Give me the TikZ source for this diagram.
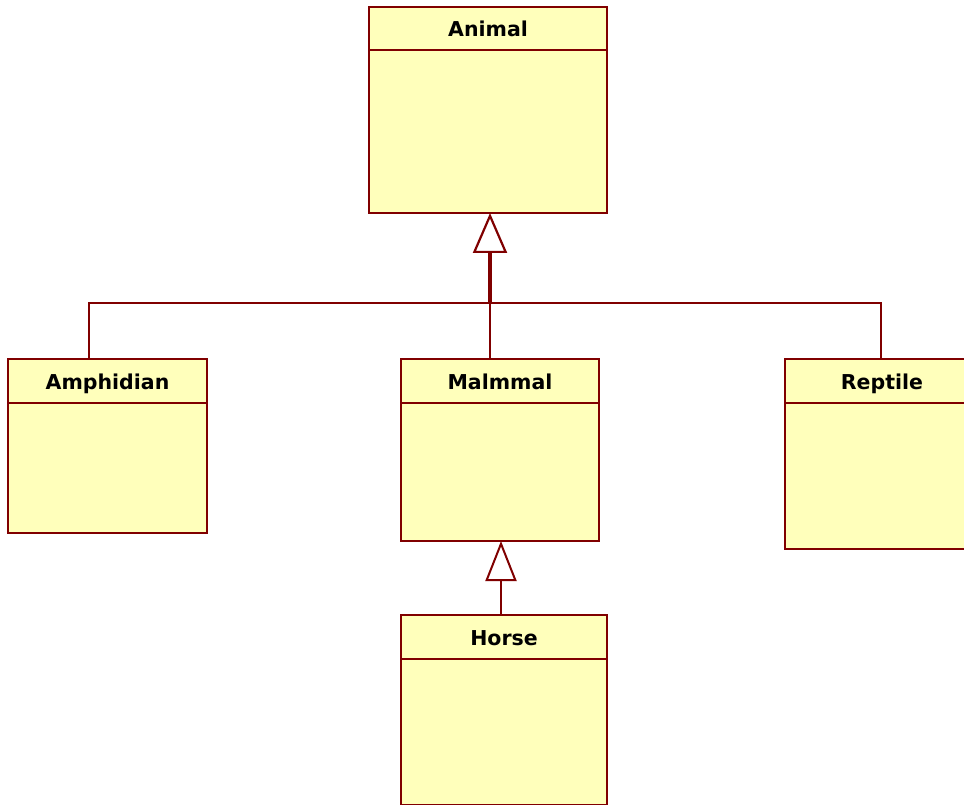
\documentclass[tikz,border=0pt]{standalone}
\usepackage{fontspec}
\setmainfont{DejaVu Sans}
\usetikzlibrary{arrows.meta}
\definecolor{umlline}{RGB}{128,0,0}
\definecolor{umlfill}{RGB}{255,255,187}
\tikzset{
  classbox/.style={draw=umlline, fill=umlfill, line width=2pt, rectangle,
    inner sep=0pt, outer sep=0pt},
  classtitle/.style={anchor=base, inner sep=0pt, font=\fontsize{20.5}{22}\selectfont\bfseries},
  divider/.style={draw=umlline, line width=2pt},
  assoc/.style={draw=umlline, line width=2pt},
  inherit/.style={draw=umlline, line width=2pt},
}
\begin{document}
\begin{tikzpicture}[x=1pt, y=-1pt]
  \useasboundingbox (0,0) rectangle (964,805);
  \clip (0,0) rectangle (964,805);

  % class boxes
  \node[classbox, minimum width=238pt, minimum height=206pt] (animal) at (488,110) {};
  \node[classbox, minimum width=199pt, minimum height=174pt] (amph) at (107.5,446) {};
  \node[classbox, minimum width=198pt, minimum height=182pt] (mammal) at (500,450) {};
  \node[classbox, minimum width=194pt, minimum height=190pt] (reptile) at (882,454) {};
  \node[classbox, minimum width=206pt, minimum height=190pt] (horse) at (504,710) {};

  % compartment dividers
  \foreach \b in {animal, amph, mammal, reptile, horse}
    \draw[divider] ([yshift=-43.5pt]\b.north west) -- ([yshift=-43.5pt]\b.north east);

  % class names (on a common baseline below each box top)
  \node[classtitle] (animalT) at ([yshift=-30pt]animal.north) {Animal};
  \node[classtitle] (amphT) at ([yshift=-30pt]amph.north) {Amphidian};
  \node[classtitle] (mammalT) at ([yshift=-30pt]mammal.north) {Malmmal};
  \node[classtitle] (reptileT) at ([yshift=-30pt]reptile.north) {Reptile};
  \node[classtitle] (horseT) at ([yshift=-30pt]horse.north) {Horse};

  % generalisation tree towards Animal
  \coordinate (bus) at (490,303);
  \coordinate (busL) at (89,303);
  \coordinate (busR) at (881,303);
  \draw[assoc] (amph.north -| busL) -- (busL) -- (busR) -- (reptile.north -| busR);
  \draw[assoc] (mammal.north -| bus) -- (bus);
  \draw[inherit, line width=3.5pt, -{Triangle[open, length=40pt, width=34pt, line width=2.2pt]}]
    (bus) -- (animal.south -| bus);

  % Horse specialises Mammal
  \coordinate (hx) at (501,0);
  \draw[inherit, -{Triangle[open, length=40pt, width=31pt, line width=2pt]}]
    (horse.north -| hx) -- (mammal.south -| hx);
\end{tikzpicture}
\end{document}
